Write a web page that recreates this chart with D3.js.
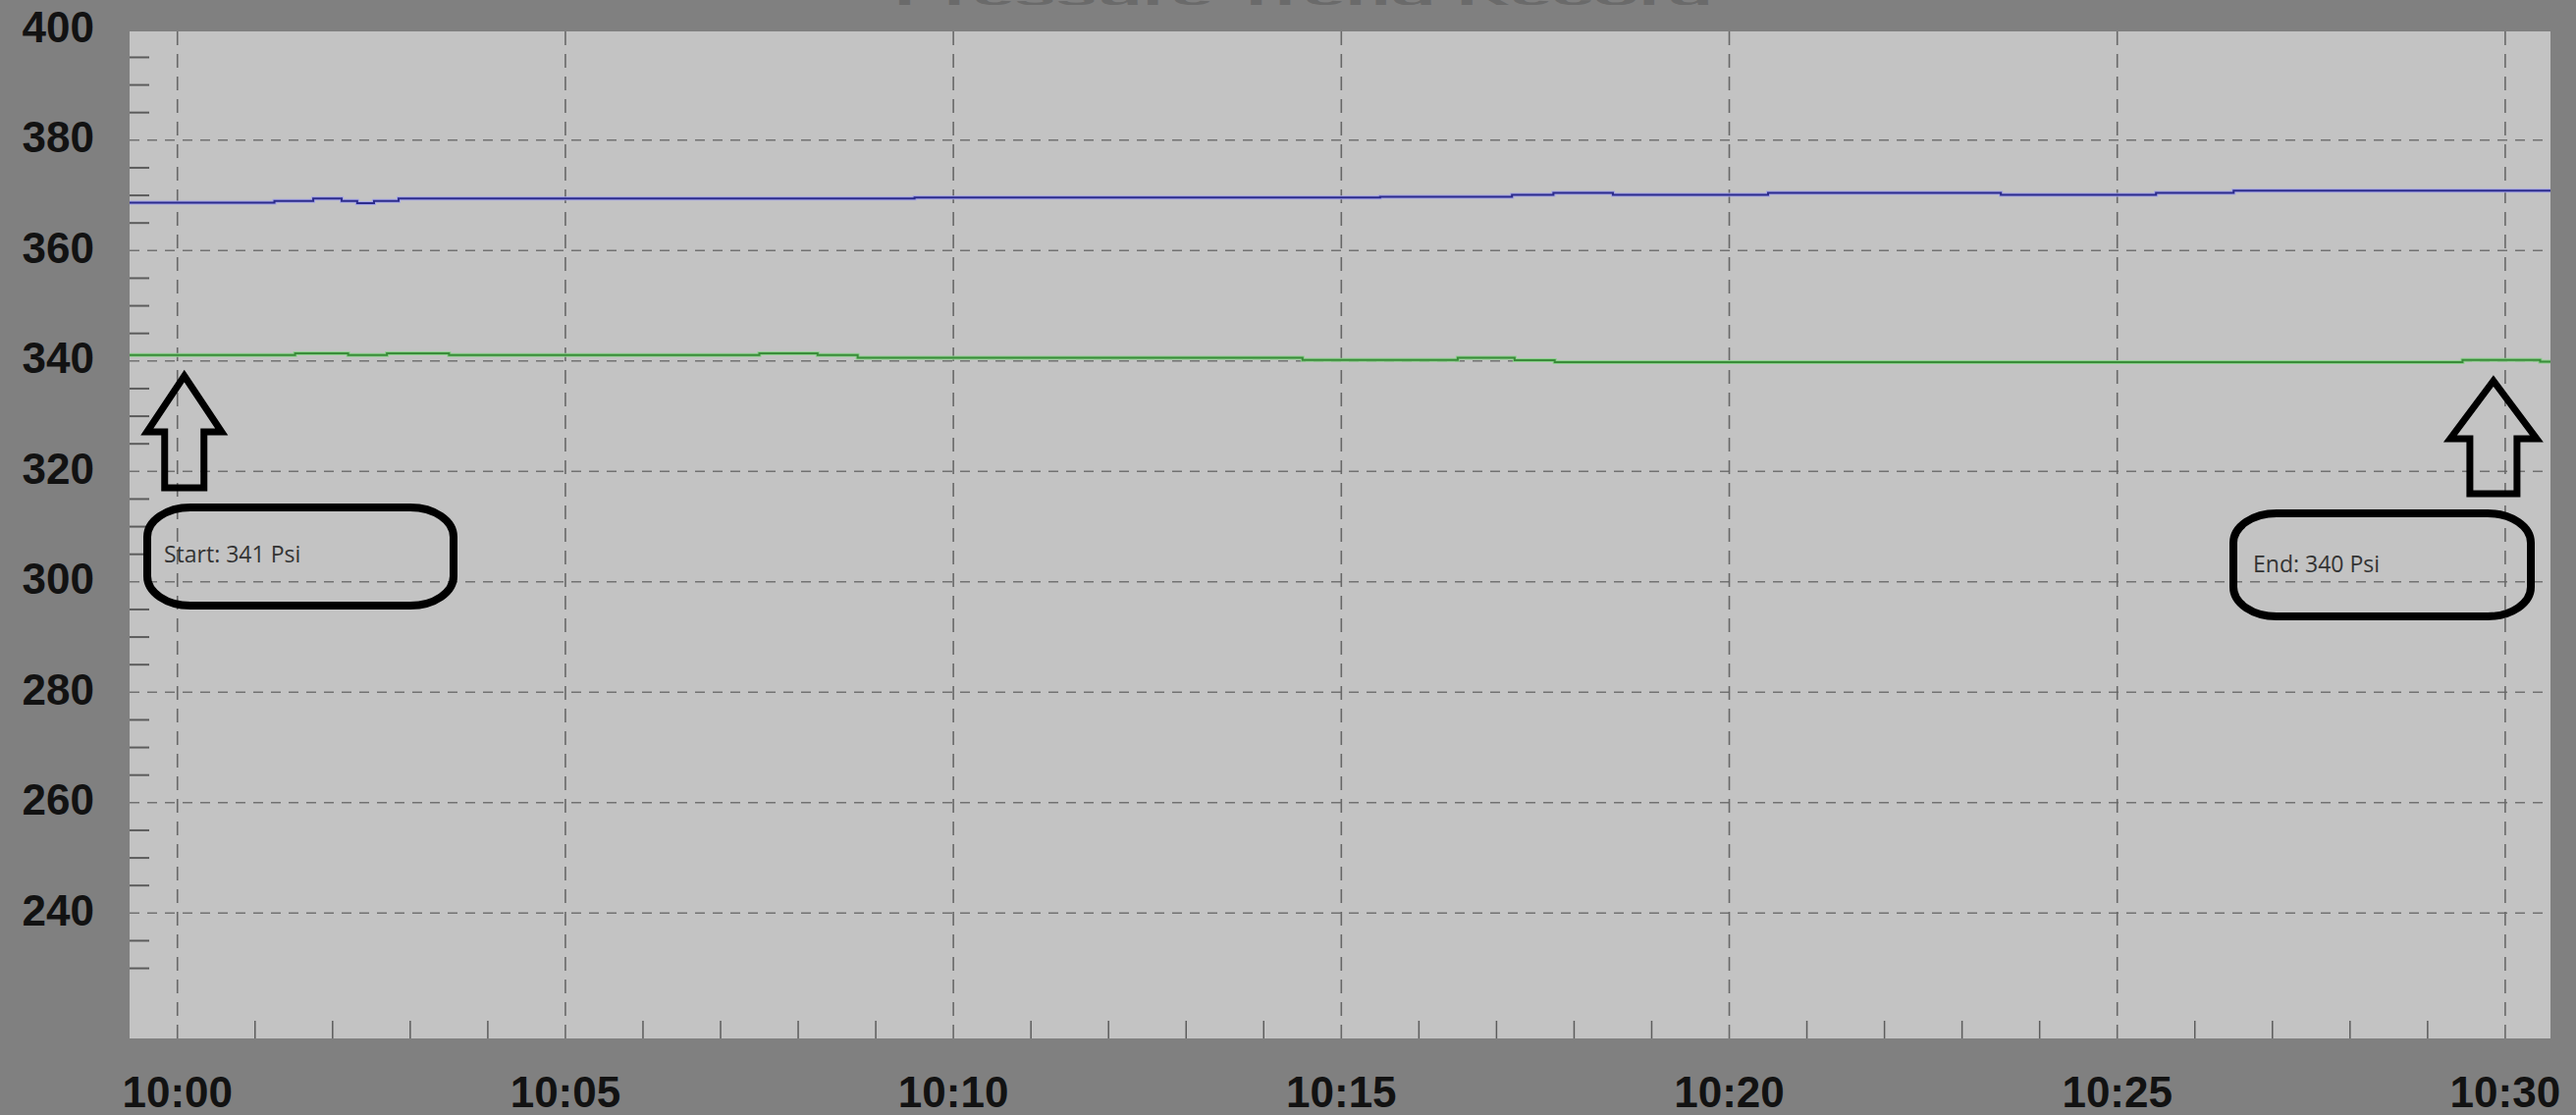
<!DOCTYPE html>
<html>
<head>
<meta charset="utf-8">
<script src="https://cdnjs.cloudflare.com/ajax/libs/d3/7.8.5/d3.min.js"></script>
<style>
  html, body { margin: 0; padding: 0; background: #808080; overflow: hidden; }
  svg { display: block; }
  .tick-label { font-family: "Liberation Sans", Arial, sans-serif; font-size: 44px; font-weight: bold; fill: #121212; }
  .note { font-family: "Open Sans", sans-serif; font-size: 23px; fill: #333; }
</style>
</head>
<body>
<div id="chart"></div>
<script>
// pressure readings (step changes)
const blueTimes = ["09:59:23", "10:01:15", "10:01:45", "10:02:07", "10:02:19", "10:02:32", "10:02:51",
  "10:09:30", "10:15:30", "10:17:12", "10:17:44", "10:18:30", "10:20:30", "10:23:30", "10:25:30",
  "10:26:30", "10:30:35"];
const blueValues = [368.7, 369.0, 369.45, 369.0, 368.6, 369.0, 369.45,
  369.6, 369.75, 370.1, 370.45, 370.1, 370.45, 370.1, 370.45,
  370.85, 370.85];

const greenTimes = ["09:59:23", "10:01:31", "10:02:12", "10:02:42", "10:03:30", "10:07:30", "10:08:15",
  "10:08:46", "10:14:30", "10:16:30", "10:17:14", "10:17:45", "10:29:27", "10:30:27", "10:30:35"];
const greenValues = [341.1, 341.4, 341.1, 341.4, 341.1, 341.4, 341.1,
  340.6, 340.2, 340.6, 340.15, 339.8, 340.2, 339.9, 339.9];

const yTicks = [400, 380, 360, 340, 320, 300, 280, 260, 240];
const xTicks = ["10:00", "10:05", "10:10", "10:15", "10:20", "10:25", "10:30"];
const yDomain = [217.3, 399.7];
const xDomain = ["09:59:23", "10:30:35"];

const notes = [
  { time: "10:00", label: "Start: 341 Psi" },
  { time: "10:30", label: "End: 340 Psi" }
];

const w = 2624;
const h = 1136;
const plot = { left: 132, right: 2598, top: 32, bottom: 1058 };

const parse = d3.timeParse("%H:%M:%S");
const parseHM = d3.timeParse("%H:%M");

const svg = d3.select("#chart").append("svg").attr("width", w).attr("height", h);

svg.append("rect").attr("width", w).attr("height", h).attr("fill", "#808080");

// title, mostly above the top edge of the screenshot
svg
  .append("text")
  .attr("x", 1328)
  .attr("y", 5)
  .attr("text-anchor", "middle")
  .attr("textLength", 834)
  .attr("lengthAdjust", "spacingAndGlyphs")
  .style("font-family", "Liberation Sans, Arial, sans-serif")
  .style("font-weight", "bold")
  .style("font-size", "26px")
  .style("fill", "#6a6a6a")
  .text("Pressure Trend Record");

svg
  .append("rect")
  .attr("x", plot.left)
  .attr("y", plot.top)
  .attr("width", plot.right - plot.left)
  .attr("height", plot.bottom - plot.top)
  .attr("fill", "#c3c3c3");

const xScale = d3.scaleTime().domain(xDomain.map(parse)).range([plot.left, plot.right]);
const yScale = d3.scaleLinear().domain(yDomain).range([plot.bottom, plot.top]);

// minor ticks on y (every 5 psi)
const yMinor = d3.range(230, 400, 5).filter((v) => v % 20 !== 0);
svg
  .append("g")
  .selectAll("line")
  .data(yMinor)
  .enter()
  .append("line")
  .attr("x1", plot.left)
  .attr("x2", plot.left + 20)
  .attr("y1", (d) => yScale(d))
  .attr("y2", (d) => yScale(d))
  .attr("stroke", "#5c5c5c")
  .attr("stroke-width", 2);

// minor ticks on x (every minute)
const xMinor = d3.timeMinute.range(parseHM("10:00"), parseHM("10:31")).filter((d) => d.getMinutes() % 5 !== 0);
svg
  .append("g")
  .selectAll("line")
  .data(xMinor)
  .enter()
  .append("line")
  .attr("x1", (d) => xScale(d))
  .attr("x2", (d) => xScale(d))
  .attr("y1", plot.bottom - 18)
  .attr("y2", plot.bottom)
  .attr("stroke", "#5c5c5c")
  .attr("stroke-width", 1.5);

// dashed grid
svg
  .append("g")
  .selectAll("line")
  .data(yTicks.filter((v) => v < 400))
  .enter()
  .append("line")
  .attr("x1", plot.left)
  .attr("x2", plot.right)
  .attr("y1", (d) => yScale(d))
  .attr("y2", (d) => yScale(d))
  .attr("stroke", "#727272")
  .attr("stroke-width", 1.6)
  .attr("stroke-dasharray", "10,8");

svg
  .append("g")
  .selectAll("line")
  .data(xTicks)
  .enter()
  .append("line")
  .attr("x1", (d) => xScale(parseHM(d)))
  .attr("x2", (d) => xScale(parseHM(d)))
  .attr("y1", plot.top)
  .attr("y2", plot.bottom)
  .attr("stroke", "#686868")
  .attr("stroke-width", 1.6)
  .attr("stroke-dasharray", "14,9");

// axis labels
svg
  .append("g")
  .selectAll("text")
  .data(yTicks)
  .enter()
  .append("text")
  .attr("class", "tick-label")
  .attr("x", 96)
  .attr("y", (d) => yScale(d) - 3)
  .attr("text-anchor", "end")
  .attr("dominant-baseline", "central")
  .text((d) => d);

svg
  .append("g")
  .selectAll("text")
  .data(xTicks)
  .enter()
  .append("text")
  .attr("class", "tick-label")
  .attr("x", (d) => xScale(parseHM(d)))
  .attr("y", 1112)
  .attr("text-anchor", "middle")
  .attr("dominant-baseline", "central")
  .text((d) => d);

// pressure lines
const line = d3
  .line()
  .x((d) => xScale(d.t))
  .y((d) => yScale(d.v))
  .curve(d3.curveStepAfter);

const blueData = blueTimes.map((t, i) => ({ t: parse(t), v: blueValues[i] }));
const greenData = greenTimes.map((t, i) => ({ t: parse(t), v: greenValues[i] }));

const series = [
  { data: blueData, halo: "#a4a4e6", core: "#2c2c8c" },
  { data: greenData, halo: "#8fd08f", core: "#3a8c3a" }
];
series.forEach((s) => {
  svg.append("path").datum(s.data).attr("d", line).attr("fill", "none")
    .attr("stroke", s.halo).attr("stroke-width", 4);
  svg.append("path").datum(s.data).attr("d", line).attr("fill", "none")
    .attr("stroke", s.core).attr("stroke-width", 2);
});

// hand-drawn arrows and boxes
const arrow = (cx, tip, hw, hh, sw, len) =>
  "M" + cx + "," + tip +
  "L" + (cx + hw) + "," + (tip + hh) +
  "L" + (cx + sw) + "," + (tip + hh) +
  "L" + (cx + sw) + "," + (tip + len) +
  "L" + (cx - sw) + "," + (tip + len) +
  "L" + (cx - sw) + "," + (tip + hh) +
  "L" + (cx - hw) + "," + (tip + hh) + "Z";

const noteGeom = [
  { dx: 7, tip: 383, hw: 38, hh: 57, sw: 20, len: 114, bx: 150, by: 517, bw: 312, bh: 100, tx: 167, ty: 573 },
  { dx: -12, tip: 388, hw: 44, hh: 59, sw: 24, len: 115, bx: 2275, by: 523, bw: 303, bh: 105, tx: 2295, ty: 583 }
];

notes.forEach((n, i) => {
  const g = noteGeom[i];
  const cx = xScale(parseHM(n.time)) + g.dx;
  svg.append("path")
    .attr("d", arrow(cx, g.tip, g.hw, g.hh, g.sw, g.len))
    .attr("fill", "none")
    .attr("stroke", "#000")
    .attr("stroke-width", 7)
    .attr("stroke-linejoin", "miter");
  svg.append("rect")
    .attr("x", g.bx)
    .attr("y", g.by)
    .attr("width", g.bw)
    .attr("height", g.bh)
    .attr("rx", 44)
    .attr("ry", 30)
    .attr("fill", "none")
    .attr("stroke", "#000")
    .attr("stroke-width", 8);
  svg.append("text")
    .attr("class", "note")
    .attr("x", g.tx)
    .attr("y", g.ty)
    .text(n.label);
});
</script>
</body>
</html>
